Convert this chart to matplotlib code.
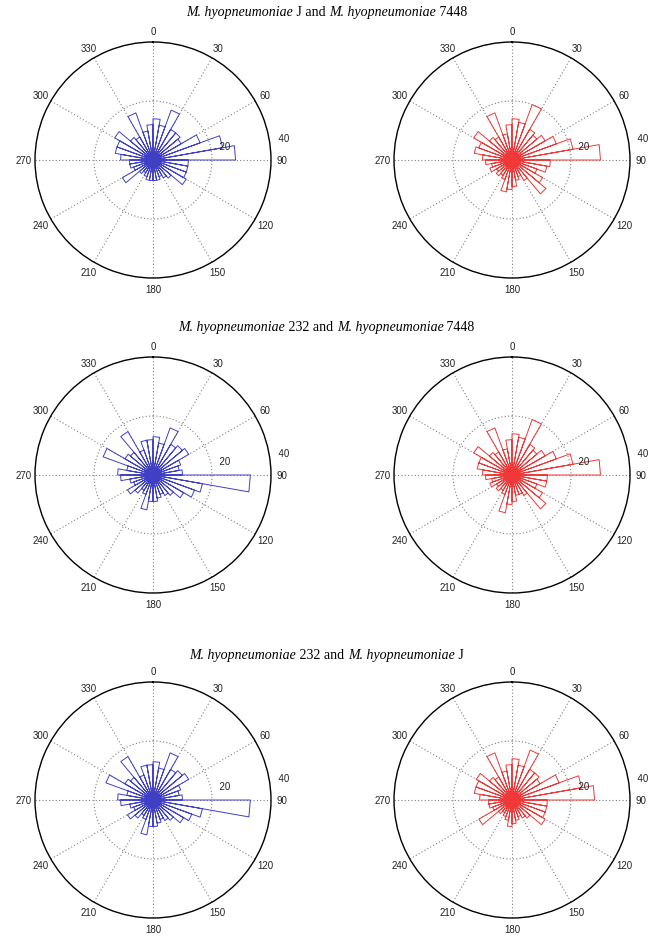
import numpy as np
import matplotlib
matplotlib.use('Agg')
import matplotlib.pyplot as plt

# bin start angles (degrees, 10 degree bins, compass convention)
bin_starts = list(range(0, 360, 10))

# counts per bin
j_vs_7448_left = [14, 12, 18, 12, 12, 11, 17, 24, 28, 12, 12, 12,
                  13, 8, 7, 6, 7, 7, 7, 7, 6, 5, 6, 12,
                  7, 8, 8, 11, 13, 13, 15, 10, 9, 17, 10, 12]
j_vs_7448_right = [14, 13, 20, 12, 11, 13, 16, 21, 30, 13, 12, 9,
                   12, 15, 8, 6, 7, 9, 10, 11, 7, 6, 7, 6,
                   8, 7, 9, 10, 13, 12, 15, 10, 9, 17, 9, 12]
s232_vs_7448_left = [13, 11, 17, 12, 13, 14, 10, 9, 10, 33, 17, 15,
                     12, 9, 8, 7, 8, 9, 9, 12, 7, 6, 8, 10,
                     7, 8, 11, 12, 9, 18, 11, 10, 17, 9, 12, 12]
s232_vs_7448_right = [14, 13, 20, 12, 11, 13, 16, 21, 30, 12, 12, 9,
                      12, 15, 8, 7, 7, 9, 10, 13, 7, 6, 7, 6,
                      8, 7, 9, 10, 12, 12, 15, 10, 9, 17, 9, 12]
s232_vs_j_left = [13, 11, 17, 12, 13, 14, 10, 9, 10, 33, 17, 14,
                  12, 9, 8, 7, 8, 9, 9, 12, 7, 6, 8, 10,
                  7, 8, 11, 12, 9, 17, 11, 10, 17, 9, 12, 12]
s232_vs_j_right = [14, 12, 18, 12, 12, 11, 17, 24, 28, 12, 12, 12,
                   13, 8, 7, 6, 7, 8, 9, 7, 6, 5, 6, 13,
                   7, 8, 8, 11, 13, 13, 14, 10, 9, 17, 10, 12]

# title pieces: (text, italic?)
titles = [
    [('M. hyopneumoniae', True), (' J and ', False),
     ('M. hyopneumoniae', True), (' 7448', False)],
    [('M. hyopneumoniae', True), (' 232 and ', False),
     ('M. hyopneumoniae', True), (' 7448', False)],
    [('M. hyopneumoniae', True), (' 232 and ', False),
     ('M. hyopneumoniae', True), (' J', False)],
]
panels = [
    (j_vs_7448_left, j_vs_7448_right),
    (s232_vs_7448_left, s232_vs_7448_right),
    (s232_vs_j_left, s232_vs_j_right),
]
angle_labels = list(range(0, 360, 30))
ring_labels = [20, 40]

blue = '#4040c4'
red = '#f03838'
rmax = 40

fig = plt.figure(figsize=(6.53, 9.37), dpi=100)
renderer = fig.canvas.get_renderer()

W = 236 / 653
H = 236 / 937
lefts = [35 / 653, 394 / 653]
bottoms = [1 - 279 / 937, 1 - 594 / 937, 1 - 919 / 937]
title_base = [1 - 16 / 937, 1 - 331 / 937, 1 - 659 / 937]


def rose(ax, counts, color):
    theta = []
    r = []
    for start, c in zip(bin_starts, counts):
        a0 = np.deg2rad(start)
        a1 = np.deg2rad(start + 10)
        theta += [a0, a0, a1, a1]
        r += [0, c, c, 0]
    ax.plot(theta, r, color=color, lw=0.7)

    ax.set_theta_zero_location('N')
    ax.set_theta_direction(-1)
    ax.set_ylim(0, rmax)
    ax.set_thetagrids(angle_labels, labels=[''] * len(angle_labels))
    ax.set_rgrids([20], labels=[''])
    ax.grid(True, color='#808080', linestyle=(0, (1, 2)), linewidth=0.8)
    ax.spines['polar'].set_color('black')
    ax.spines['polar'].set_linewidth(1.0)
    ax.tick_params(length=0)

    for a in angle_labels:
        ax.text(np.deg2rad(a), rmax * 1.095, str(a), ha='center', va='center',
                fontsize=7, family='Liberation Sans', color='#222222')
    for rl in ring_labels:
        ax.text(np.deg2rad(82), rl + 1, '  ' + str(rl), ha='left', va='bottom',
                fontsize=7, family='Liberation Sans', color='#222222')


def title_line(pieces, y):
    # draw the pieces once to measure, then lay them out centred
    texts = []
    widths = []
    for s, it in pieces:
        t = fig.text(0, y, s, ha='left', va='baseline', fontsize=10,
                     family='Liberation Serif', style='italic' if it else 'normal')
        w = t.get_window_extent(renderer).width / fig.bbox.width
        texts.append(t)
        widths.append(w)
    x = 0.5 - sum(widths) / 2
    for t, w in zip(texts, widths):
        t.set_x(x)
        x += w


for row, (pair, title) in enumerate(zip(panels, titles)):
    for col, (counts, color) in enumerate(zip(pair, [blue, red])):
        ax = fig.add_axes([lefts[col], bottoms[row], W, H], projection='polar')
        rose(ax, counts, color)
    title_line(title, title_base[row])

fig.savefig('out.png', dpi=100)
